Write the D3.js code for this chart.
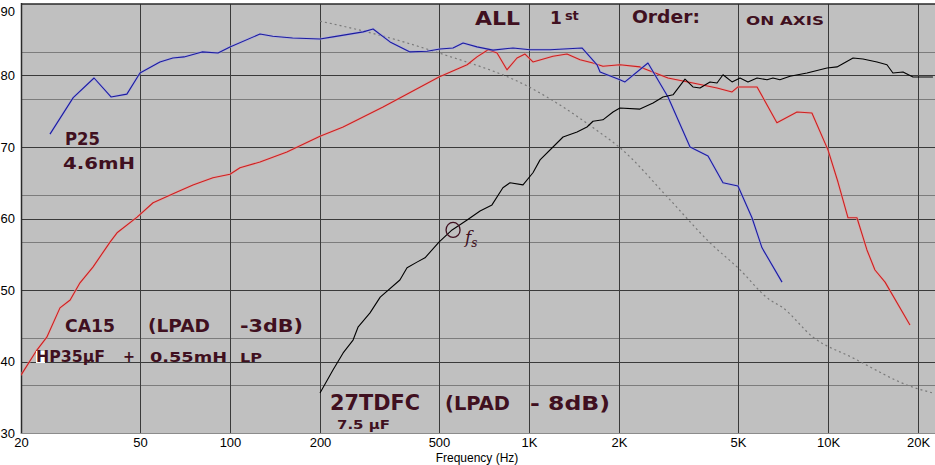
<!DOCTYPE html>
<html><head><meta charset="utf-8">
<script src="https://cdn.jsdelivr.net/npm/d3@7"></script>
<style>body{margin:0;background:#fff;overflow:hidden}svg{display:block}</style>
</head><body>
<svg id="c" width="935" height="465"></svg>
<script>
// ---- data ----
const xTickValues = [20, 50, 100, 200, 500, 1000, 2000, 5000, 10000, 20000];
const xTickLabels = ["20", "50", "100", "200", "500", "1K", "2K", "5K", "10K", "20K"];
const yTickValues = [30, 40, 50, 60, 70, 80, 90];
const yMinorGrid = [36.67, 43.33, 56.67, 63.33, 76.67, 83.33];

const blueFreq = [25,29.9,35.1,40,45.2,50,58.3,64.4,70.2,80.6,91.2,100,126,139,162,200,221,279,301,343,400,456,504,557,602,670,758,884,1008,1176,1504,1689,1729,2014,2094,2500,2917,3457,3970,4456,5000,5570,6017,7020];
const blueDb = [71.8,76.9,79.65,77.0,77.4,80.35,81.9,82.45,82.6,83.3,83.15,84.0,85.8,85.5,85.25,85.1,85.4,86.1,86.5,84.7,83.3,83.4,83.7,83.85,84.55,84.0,83.55,83.85,83.6,83.6,83.85,81.5,80.5,79.4,79.1,81.75,77.0,70.0,68.75,65.0,64.55,60.1,55.9,51.1];

const redFreq = [20,22.6,24.4,27.0,29.2,31.5,34.8,39.7,41.9,48.9,55.3,66.5,75.2,87.7,100,108,126,155,200,239,325,500,621,670,730,782,844,912,970,1031,1203,1340,1482,1637,1767,2014,2350,2917,3535,4255,4776,5000,5792,6748,7878,8836,10000,10800,11670,12500,13500,14360,15520,18800];
const redDb = [38.1,41.6,43.4,47.5,48.6,51.0,53.2,56.7,58.0,60.2,62.2,63.7,64.7,65.7,66.2,67.1,67.9,69.3,71.5,72.8,75.6,79.8,81.5,82.6,83.6,83.15,80.8,82.45,83.0,81.9,82.7,83.0,82.2,81.75,81.3,81.5,81.2,79.65,78.95,78.25,77.7,78.4,78.4,73.4,74.9,74.75,69.6,65.1,60.1,60.1,55.6,52.8,51.1,45.1];

const blackFreq = [200,221,239,258,268,294,318,370,391,422,449,500,553,621,686,752,818,864,955,1031,1089,1203,1300,1448,1563,1637,1767,1910,2014,2350,2600,2806,3032,3325,3535,3733,4031,4255,4456,4776,5080,5400,5792,6255,6548,6906,7465,8507,9928,10720,12130,13090,14590,15750,16490,17820,19240,22440];
const blackDb = [35.6,38.8,41.2,43.0,44.8,46.8,49.0,51.4,53.1,53.9,54.5,56.7,58.4,59.8,61.05,61.9,64.3,65.0,64.7,66.4,68.2,70.0,71.4,72.1,72.8,73.6,73.8,74.9,75.45,75.3,76.15,77.0,77.3,79.5,78.4,78.25,79.1,78.95,80.1,79.1,79.65,79.1,79.65,79.4,79.65,79.4,79.9,80.35,81.05,81.2,82.45,82.3,81.9,81.5,80.35,80.5,79.8,79.8];

const grayFreq = [200,300,500,1000,1729,2014,2964,4031,5000,6400,7020,8915,12130,19240,22440];
const grayDb = [87.6,85.9,83.15,78.4,72.0,69.9,62.6,56.6,53.1,48.6,47.6,43.4,40.5,36.4,35.6];

// handwritten notes, anchored in data units (frequency, dB)
const notes = [
  {text:"ALL", f:660, db:87.06, size:19, w:45},
  {text:"Order:", f:2210, db:87.34, size:18, w:68},
  {text:"ON AXIS", f:5318, db:87.06, size:13, w:78},
  {text:"P25", f:28.07, db:70.28, size:18, w:35},
  {text:"4.6mH", f:27.66, db:66.92, size:15, w:72},
  {text:"CA15", f:28.07, db:44.13, size:17, w:50},
  {text:"(LPAD", f:53.2, db:44.13, size:17, w:62},
  {text:"-3dB)", f:108.0, db:44.13, size:17, w:63},
  {text:"HP35\u03bcF", f:22.45, db:39.93, size:15, w:69},
  {text:"+", f:43.87, db:39.93, size:15, w:12},
  {text:"0.55mH", f:54.0, db:39.93, size:14, w:77},
  {text:"LP", f:108.0, db:39.93, size:13, w:22},
  {text:"27TDFC", f:216.0, db:33.22, size:22, w:90},
  {text:"(LPAD", f:523.8, db:33.22, size:20, w:65},
  {text:"- 8dB)", f:1008, db:33.22, size:20, w:80},
  {text:"7.5 \u03bcF", f:228.0, db:30.56, size:13, w:53}
];

// ---- chart ----
const W = 935, H = 465;
const x = d3.scaleLog().domain([20, 22800]).range([21, 935]);
const y = d3.scaleLinear().domain([30, 90]).range([433, 4]);
const svg = d3.select("#c");
const ink = "#401020";
const hand = "'DejaVu Sans', sans-serif";
const axisFont = "'Liberation Sans', Arial, sans-serif";

svg.append("rect").attr("x", 21).attr("y", 4).attr("width", W - 21).attr("height", 429).attr("fill", "#c0c0c0");

const grid = svg.append("g");
grid.selectAll(".mg").data(yMinorGrid).join("line")
  .attr("x1", 21).attr("x2", W)
  .attr("y1", d => Math.round(y(d)) + 0.5).attr("y2", d => Math.round(y(d)) + 0.5)
  .attr("stroke", "#7c7c7c").attr("stroke-width", 1);
grid.selectAll(".hg").data(yTickValues.filter(v => v > 30 && v < 90)).join("line")
  .attr("x1", 21).attr("x2", W)
  .attr("y1", d => Math.round(y(d)) + 0.5).attr("y2", d => Math.round(y(d)) + 0.5)
  .attr("stroke", "#3a3a3a").attr("stroke-width", 1);
grid.selectAll(".vg").data(xTickValues.slice(1)).join("line")
  .attr("x1", d => Math.round(x(d)) + 0.5).attr("x2", d => Math.round(x(d)) + 0.5)
  .attr("y1", 4).attr("y2", 433)
  .attr("stroke", "#3a3a3a").attr("stroke-width", 1);

// borders
svg.append("line").attr("x1", 21.5).attr("x2", 21.5).attr("y1", 3).attr("y2", 434).attr("stroke", "#2a2a2a").attr("stroke-width", 1.5);
svg.append("line").attr("x1", 21).attr("x2", W).attr("y1", 4).attr("y2", 4).attr("stroke", "#2a2a2a").attr("stroke-width", 1.5);
svg.append("line").attr("x1", 21).attr("x2", W).attr("y1", 433.5).attr("y2", 433.5).attr("stroke", "#8c8c8c").attr("stroke-width", 1);

// axes
const xAxis = d3.axisBottom(x).tickValues(xTickValues).tickFormat((d, i) => xTickLabels[i]).tickSize(0).tickPadding(5);
const gx = svg.append("g").attr("transform", "translate(0,433)").call(xAxis);
gx.select(".domain").remove();
gx.selectAll("text").attr("font-family", axisFont).attr("font-size", 13).attr("fill", "#000");

const yAxis = d3.axisLeft(y).tickValues(yTickValues).tickSize(0).tickPadding(6);
const gy = svg.append("g").attr("transform", "translate(21,0)").call(yAxis);
gy.select(".domain").remove();
gy.selectAll("text").attr("font-family", axisFont).attr("font-size", 13).attr("fill", "#000")
  .attr("dy", d => d === 90 ? "0.9em" : "0.32em").attr("y", d => d === 90 ? 0 : 0);

svg.append("text").attr("x", 477).attr("y", 462).attr("text-anchor", "middle")
  .attr("font-family", axisFont).attr("font-size", 12).text("Frequency (Hz)");

// curves
svg.append("clipPath").attr("id", "clip").append("rect").attr("x", 21).attr("y", 4).attr("width", W - 21).attr("height", 429);
const plot = svg.append("g").attr("clip-path", "url(#clip)");
const line = d3.line().x(d => x(d[0])).y(d => y(d[1]));
const zip = (a, b) => a.map((v, i) => [v, b[i]]);

plot.append("path").datum(zip(grayFreq, grayDb)).attr("d", line.curve(d3.curveMonotoneX))
  .attr("fill", "none").attr("stroke", "#7a7a7a").attr("stroke-width", 1.2).attr("stroke-dasharray", "2,3");
line.curve(d3.curveLinear);

const series = [
  {f: redFreq, v: redDb, c: "#cc2020", halo: "#e6a0a0"},
  {f: blueFreq, v: blueDb, c: "#1c1ca0", halo: "#a8a8e0"},
  {f: blackFreq, v: blackDb, c: "#000000", halo: null}
];
series.forEach(s => {
  if (s.halo) plot.append("path").datum(zip(s.f, s.v)).attr("d", line)
    .attr("fill", "none").attr("stroke", s.halo).attr("stroke-width", 2.6).attr("stroke-opacity", 0.6);
  plot.append("path").datum(zip(s.f, s.v)).attr("d", line)
    .attr("fill", "none").attr("stroke", s.c).attr("stroke-width", 1.1).attr("stroke-linejoin", "round");
});

// notes
const ng = svg.append("g").attr("fill", ink).attr("font-family", hand).attr("font-weight", "bold");
ng.append("rect").attr("x", x(22.45)).attr("y", y(39.93) - 11).attr("width", 9).attr("height", 12).attr("fill", "#fff");
notes.forEach(n => {
  ng.append("text").attr("x", x(n.f)).attr("y", y(n.db)).attr("font-size", n.size)
    .attr("textLength", n.w).attr("lengthAdjust", "spacingAndGlyphs").text(n.text);
});
const first = ng.append("text").attr("x", x(1176)).attr("y", y(87.2)).attr("font-size", 17);
first.append("tspan").text("1");
first.append("tspan").attr("dx", 3).attr("dy", -4).attr("font-size", 13).text("st");

ng.append("ellipse").attr("cx", x(553) + 1).attr("cy", y(58.4)).attr("rx", 7).attr("ry", 7.5)
  .attr("fill", "none").attr("stroke", ink).attr("stroke-width", 1.3);
const fs = ng.append("text").attr("x", x(611)).attr("y", y(56.57)).attr("font-size", 17)
  .attr("font-family", "'DejaVu Serif', serif").attr("font-style", "italic").attr("font-weight", "normal");
fs.append("tspan").text("f");
fs.append("tspan").attr("dy", 4).attr("font-size", 12).text("s");
</script></body></html>
